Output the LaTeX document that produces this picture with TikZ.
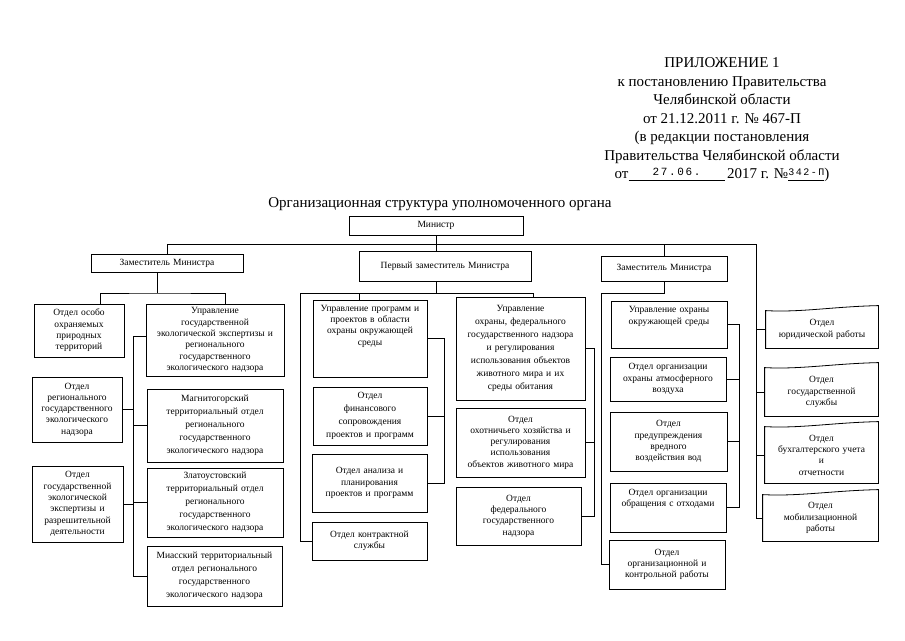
\documentclass[tikz,border=0pt]{standalone}
\usepackage{fontspec}
\setmainfont{Liberation Serif}
\newfontfamily\stampfont[LetterSpace=15]{Liberation Mono}

\tikzset{
  unit/.style={draw, line width=.8pt, align=center, inner sep=1pt,
    font=\fontsize{9.5}{11.3}\selectfont},
  loose/.style={font=\fontsize{9.5}{13}\selectfont},
  sideunit/.style={unit, draw=none},
  link/.style={line width=.7pt}
}

\begin{document}
\begin{tikzpicture}[x=1pt,y=-1pt]
\useasboundingbox (0,0) rectangle (905,640);

% heading
\node[align=center, font=\fontsize{15}{18.5}\selectfont] (annex) at (722,120)
  {ПРИЛОЖЕНИЕ 1\\к постановлению Правительства\\Челябинской области\\от 21.12.2011 г. № 467-П\\(в редакции постановления\\Правительства Челябинской области\\от\underline{\makebox[96pt]{\raisebox{3pt}{\fontsize{11}{11}\stampfont 27.06.}}}\,2017 г. №\underline{\raisebox{3pt}{\fontsize{10}{10}\stampfont 342-П}})};
\node[font=\fontsize{15}{17}\selectfont] (title) at (440,204) {Организационная структура уполномоченного органа};

% top level
\node[unit, text width=172pt, minimum height=19pt] (minister) at (436,225.5) {Министр};
\node[unit, text width=150pt, minimum height=18pt] (zamL) at (167,263) {Заместитель Министра};
\node[unit, text width=170pt, minimum height=30pt] (first) at (445,266) {Первый заместитель Министра};
\node[unit, text width=124pt, minimum height=25pt] (zamR) at (664,268.5) {Заместитель Министра};

% left branch
\node[unit, text width=88pt, minimum height=53pt] (oopt) at (79,330.5) {Отдел особо\\охраняемых\\природных\\территорий};
\node[unit, text width=136pt, minimum height=72pt] (uprE) at (215,340) {Управление\\государственной\\экологической экспертизы и\\регионального\\государственного\\экологического надзора};
\node[unit, text width=88pt, minimum height=65pt] (reg) at (77,409.5) {Отдел\\регионального\\государственного\\экологического\\надзора};
\node[unit, loose, text width=134pt, minimum height=73pt] (magn) at (215,425.5) {Магнитогорский\\территориальный отдел\\регионального\\государственного\\экологического надзора};
\node[unit, text width=89pt, minimum height=76pt] (exp) at (77.5,504) {Отдел\\государственной\\экологической\\экспертизы и\\разрешительной\\деятельности};
\node[unit, loose, text width=134pt, minimum height=69pt] (zlat) at (215,502.5) {Златоустовский\\территориальный отдел\\регионального\\государственного\\экологического надзора};
\node[unit, loose, text width=133pt, minimum height=60pt] (mias) at (214.5,576) {Миасский территориальный\\отдел регионального\\государственного\\экологического надзора};

% middle branch
\node[unit, text width=112pt, minimum height=77pt] (prog) at (370,338.5) {Управление программ и\\проектов в области\\охраны окружающей\\среды\\\rule{0pt}{24pt}};
\node[unit, loose, text width=112pt, minimum height=58pt] (fin) at (370,416) {Отдел\\финансового\\сопровождения\\проектов и программ};
\node[unit, text width=113pt, minimum height=58pt] (anal) at (369.5,483) {Отдел анализа и\\планирования\\проектов и программ};
\node[unit, text width=113pt, minimum height=38pt] (kontr) at (369.5,541) {Отдел контрактной\\службы};
\node[unit, loose, text width=127pt, minimum height=103pt] (fedupr) at (520.5,348.5) {Управление\\охраны, федерального\\государственного надзора\\и регулирования\\использования объектов\\животного мира и их\\среды обитания};
\node[unit, text width=127pt, minimum height=69pt] (okhot) at (520.5,442.5) {Отдел\\охотничьего хозяйства и\\регулирования\\использования\\объектов животного мира};
\node[unit, text width=123pt, minimum height=58pt] (fnadz) at (518.5,516) {Отдел\\федерального\\государственного\\надзора};

% right branch
\node[unit, text width=114pt, minimum height=47pt] (ohr) at (669,324.5) {Управление охраны\\окружающей среды\\\rule{0pt}{15pt}};
\node[unit, text width=114pt, minimum height=44pt] (atm) at (668,379) {Отдел организации\\охраны атмосферного\\воздуха};
\node[unit, text width=115pt, minimum height=59pt] (vod) at (668.5,441.5) {Отдел\\предупреждения\\вредного\\воздействия вод};
\node[unit, text width=114pt, minimum height=49pt] (otx) at (668,507.5) {Отдел организации\\обращения с отходами\\\rule{0pt}{16pt}};
\node[unit, text width=114pt, minimum height=49pt] (orgk) at (667,564.5) {Отдел\\организационной и\\контрольной работы};

% units under the minister
\node[sideunit, text width=110pt, minimum height=37pt] (jur) at (822,329.5) {Отдел\\юридической работы};
\node[sideunit, text width=111pt, minimum height=48pt] (gos) at (821.5,392) {Отдел\\государственной\\службы};
\node[sideunit, text width=111pt, minimum height=56pt] (buh) at (821.5,455) {Отдел\\бухгалтерского учета\\и\\отчетности};
\node[sideunit, text width=113pt, minimum height=46pt] (mob) at (820.5,518) {Отдел\\мобилизационной\\работы};
\foreach \n in {jur,gos,buh,mob}
  \draw[line width=.8pt] (\n.south west) -- (\n.north west)
    .. controls ([xshift=35pt,yshift=-2pt]\n.north west) and ([xshift=-45pt,yshift=4pt]\n.north east) ..
    ([yshift=5pt]\n.north east) -- (\n.south east) -- cycle;

% links, top level
\coordinate (tbar) at (756,244);
\draw[link] (minister) -- (minister |- first.north);
\draw[link] (zamL) |- (tbar);
\draw[link] (zamR) -- (zamR |- tbar);
\draw[link] (tbar) |- (mob);
\foreach \n in {jur,gos,buh}
  \draw[link] (\n) -- (\n -| tbar);

% links, left
\coordinate (lbar) at (157,293);
\coordinate (lspine) at (133,336);
\draw[link] (lbar) -- (lbar |- zamL.south);
\draw[link] ([xshift=21pt]oopt.north) |- (lbar) -| ([xshift=10pt]uprE.north);
\draw[link] (uprE.west |- lspine) -- (lspine) |- (mias);
\foreach \n in {reg,magn,exp,zlat}
  \draw[link] (\n) -- (\n -| lspine);

% links, middle
\coordinate (mbar) at (300,293);
\coordinate (mspineA) at (444,0);
\coordinate (mspineB) at (594,0);
\draw[link] (first.south -| minister) -- (mbar -| minister);
\draw[link] (kontr) -| (mbar) -| ([xshift=13pt]fedupr.north);
\draw[link] ([xshift=-11pt]prog.north) -- ([xshift=-11pt]prog.north |- mbar);
\draw[link] (prog) -- (prog -| mspineA) |- (anal);
\draw[link] (fin) -- (fin -| mspineA);
\draw[link] (fedupr) -- (fedupr -| mspineB) |- (fnadz);
\draw[link] (okhot) -- (okhot -| mspineB);

% links, right
\coordinate (rbar) at (601,293);
\coordinate (rspine) at (739,0);
\draw[link] (zamR) |- (rbar) |- (orgk);
\draw[link] (ohr) -- (ohr -| rspine) |- (otx);
\draw[link] (atm) -- (atm -| rspine);
\draw[link] (vod) -- (vod -| rspine);

\end{tikzpicture}
\end{document}
